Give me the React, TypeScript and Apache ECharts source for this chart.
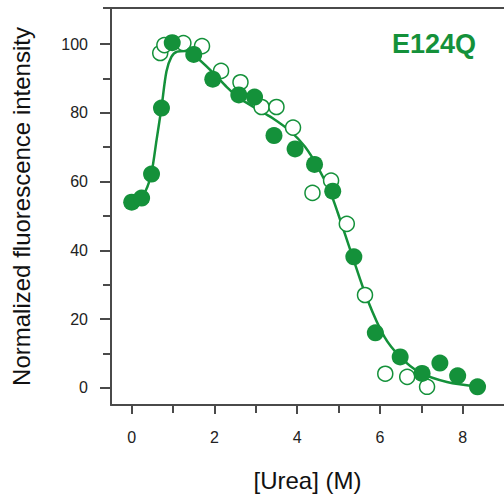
import React, { useEffect, useRef } from "react";
import * as echarts from "echarts";

const GREEN = "#14913a";
const AXIS = "#4a4a4a";
const FONT = 'Arial, "Liberation Sans", sans-serif';

// Filled circles (one data set)
const filledX = [0, 0.24, 0.48, 0.72, 0.98, 1.5, 1.96, 2.59, 2.97, 3.44, 3.95, 4.42, 4.86, 5.37, 5.89, 6.49, 7.02, 7.45, 7.88, 8.36];
const filledY = [54, 55.2, 62.2, 81.4, 100.4, 97, 89.8, 85.2, 84.6, 73.4, 69.5, 65, 57.2, 38.1, 16, 9, 4.2, 7.2, 3.5, 0.3];

// Open circles (second data set)
const openX = [0.69, 0.79, 1.25, 1.7, 2.16, 2.63, 3.14, 3.5, 3.9, 4.37, 4.82, 5.2, 5.64, 6.13, 6.66, 7.14];
const openY = [97.4, 99.7, 100.3, 99.4, 92.2, 88.9, 81.7, 81.7, 75.7, 56.7, 60.3, 47.7, 27, 4.1, 3.2, 0.3];

// Fitted curve
const curveX = [0, 0.24, 0.38, 0.48, 0.6, 0.72, 0.84, 0.96, 1.1, 1.3, 1.5, 1.94, 2.3, 2.6, 3.0, 3.4, 3.86, 4.19, 4.5, 4.81, 4.98, 5.34, 5.7, 6.11, 6.49, 6.97, 7.62, 8.4];
const curveY = [54, 55.5, 58.5, 62.5, 72, 81.5, 92, 96.3, 97.8, 98, 96.8, 92, 87.5, 84.3, 81.3, 78.5, 74.4, 70.1, 64.2, 56.6, 51, 38.1, 25.6, 14.8, 9, 4.4, 1.7, 0.3];

const xMajorTicks = [0, 2, 4, 6, 8];
const xMinorTicks = [1, 3, 5, 7];
const yMajorTicks = [0, 20, 40, 60, 80, 100];
const yMinorTicks = [10, 30, 50, 70, 90];

const X_MIN = -0.5;
const X_MAX = 9;
const Y_MIN = -5;
const Y_MAX = 110.5;

const zip = (xs: number[], ys: number[]) => xs.map((x, i) => [x, ys[i]]);

export default function App() {
  const ref = useRef<HTMLDivElement>(null);

  useEffect(() => {
    if (!ref.current) return;
    const chart = echarts.init(ref.current, null, { renderer: "svg" });
    const tickLabel = { color: "#222", fontSize: 16, fontFamily: FONT };

    chart.setOption({
      animation: false,
      backgroundColor: "#fff",
      grid: { left: 111, top: 8, width: 397, height: 397, containLabel: false },
      xAxis: [
        {
          type: "value",
          min: X_MIN,
          max: X_MAX,
          position: "bottom",
          axisLine: { show: true, onZero: false, lineStyle: { color: AXIS, width: 2 } },
          axisTick: { show: true, customValues: xMajorTicks, length: 9, lineStyle: { color: AXIS, width: 2 } },
          axisLabel: { show: true, customValues: xMajorTicks, margin: 24, ...tickLabel },
          splitLine: { show: false },
          name: "[Urea] (M)",
          nameLocation: "middle",
          nameGap: 63,
          nameTextStyle: { color: "#111", fontSize: 24, fontFamily: FONT },
        },
        {
          type: "value",
          min: X_MIN,
          max: X_MAX,
          position: "bottom",
          axisLine: { show: false, onZero: false },
          axisTick: { show: true, customValues: xMinorTicks, length: 8, lineStyle: { color: AXIS, width: 2 } },
          axisLabel: { show: false },
          splitLine: { show: false },
        },
      ],
      yAxis: [
        {
          type: "value",
          min: Y_MIN,
          max: Y_MAX,
          position: "left",
          axisLine: { show: true, onZero: false, lineStyle: { color: AXIS, width: 2 } },
          axisTick: { show: true, customValues: yMajorTicks, length: 11, lineStyle: { color: AXIS, width: 2 } },
          axisLabel: { show: true, customValues: yMajorTicks, margin: 23, ...tickLabel },
          splitLine: { show: false },
          name: "Normalized fluorescence intensity",
          nameLocation: "middle",
          nameGap: 78,
          nameTextStyle: { color: "#111", fontSize: 24, fontFamily: FONT },
        },
        {
          type: "value",
          min: Y_MIN,
          max: Y_MAX,
          position: "left",
          axisLine: { show: false, onZero: false },
          axisTick: { show: true, customValues: yMinorTicks, length: 8, lineStyle: { color: AXIS, width: 2 } },
          axisLabel: { show: false },
          splitLine: { show: false },
        },
      ],
      graphic: [
        {
          type: "line",
          shape: { x1: 103, y1: 8, x2: 504, y2: 8 },
          style: { stroke: AXIS, lineWidth: 2 },
          z: 10,
        },
        {
          type: "text",
          left: 392,
          top: 30,
          style: {
            text: "E124Q",
            fill: GREEN,
            fontSize: 27,
            fontWeight: "bold",
            fontFamily: FONT,
          },
        },
      ],
      series: [
        {
          type: "line",
          data: zip(curveX, curveY),
          smooth: 0.3,
          showSymbol: false,
          lineStyle: { color: GREEN, width: 2.5 },
          z: 1,
        },
        {
          type: "scatter",
          data: zip(openX, openY),
          symbol: "circle",
          symbolSize: 15,
          itemStyle: { color: "#fff", borderColor: GREEN, borderWidth: 1.5, opacity: 1 },
          z: 2,
        },
        {
          type: "scatter",
          data: zip(filledX, filledY),
          symbol: "circle",
          symbolSize: 17,
          itemStyle: { color: GREEN, opacity: 1 },
          z: 3,
        },
      ],
    });
    return () => chart.dispose();
  }, []);

  return <div ref={ref} style={{ width: 504, height: 500, position: "absolute", left: 0, top: 0 }} />;
}
